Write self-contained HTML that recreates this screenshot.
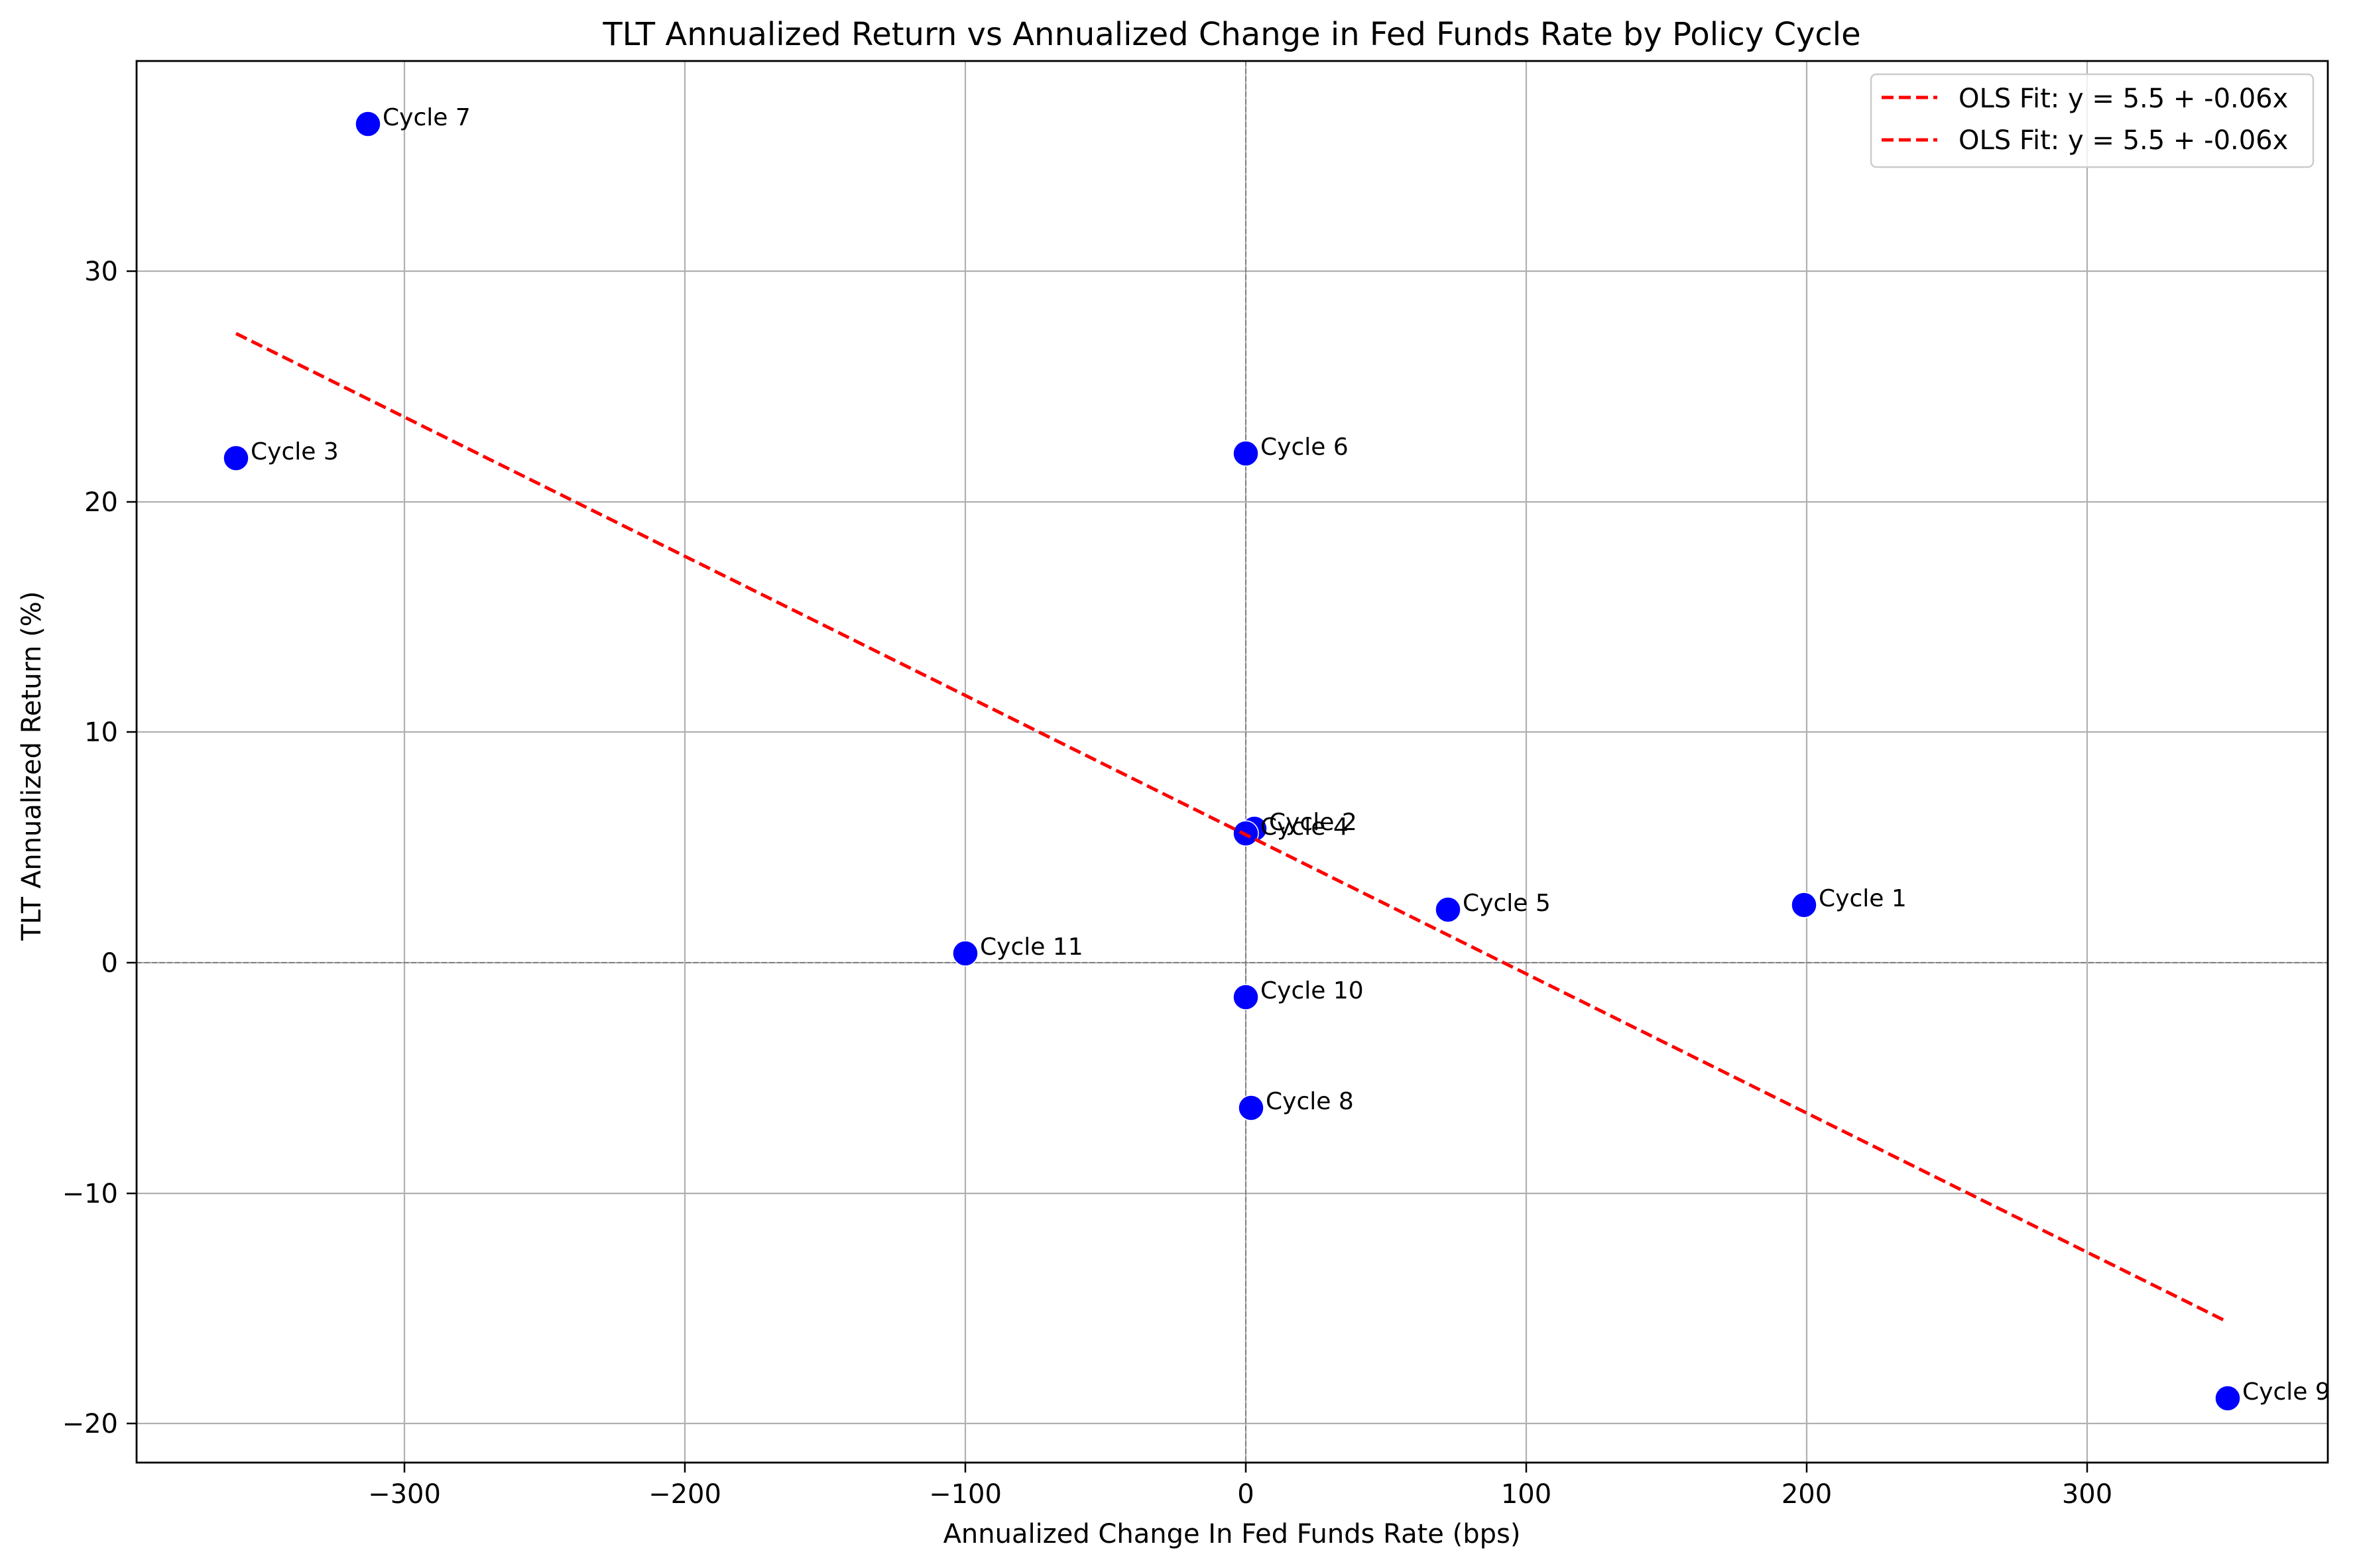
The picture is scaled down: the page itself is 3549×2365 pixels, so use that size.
<!DOCTYPE html>
<html><head><style>body{margin:0;background:#fff}svg{display:block}text{font-family:"DejaVu Sans","Liberation Sans",sans-serif;fill:#000}</style></head>
<body>
<svg width="3549" height="2365" viewBox="0 0 3549 2365" xmlns="http://www.w3.org/2000/svg">
<rect width="3549" height="2365" fill="#fff"/>
<g stroke="#b0b0b0" stroke-width="2.2">
<line x1="610" y1="92" x2="610" y2="2206"/><line x1="1033" y1="92" x2="1033" y2="2206"/><line x1="1456" y1="92" x2="1456" y2="2206"/><line x1="1879" y1="92" x2="1879" y2="2206"/><line x1="2302" y1="92" x2="2302" y2="2206"/><line x1="2725" y1="92" x2="2725" y2="2206"/><line x1="3148" y1="92" x2="3148" y2="2206"/>
<line x1="206" y1="409" x2="3511" y2="409"/><line x1="206" y1="757" x2="3511" y2="757"/><line x1="206" y1="1104" x2="3511" y2="1104"/><line x1="206" y1="1452" x2="3511" y2="1452"/><line x1="206" y1="1800" x2="3511" y2="1800"/><line x1="206" y1="2147" x2="3511" y2="2147"/>
</g>
<g stroke="#808080" stroke-width="2" stroke-dasharray="8,3.5">
<line x1="1879" y1="92" x2="1879" y2="2206"/><line x1="206" y1="1452" x2="3511" y2="1452"/>
</g>
<g fill="#0000ff" stroke="#fff" stroke-width="1.5">
<circle cx="555" cy="187" r="19"/><circle cx="356" cy="691" r="19"/><circle cx="1879" cy="684" r="19"/><circle cx="1892" cy="1250" r="19"/><circle cx="1879" cy="1257" r="19"/><circle cx="2184" cy="1372" r="19"/><circle cx="2721" cy="1365" r="19"/><circle cx="1456" cy="1438" r="19"/><circle cx="1879" cy="1504" r="19"/><circle cx="1887" cy="1671" r="19"/><circle cx="3360" cy="2109" r="19"/>
</g>
<line x1="356" y1="503" x2="3360" y2="1994" stroke="#ff0000" stroke-width="5" stroke-dasharray="18,8"/>
<g font-size="36">
<text x="577" y="189">Cycle 7</text><text x="378" y="693">Cycle 3</text><text x="1901" y="686">Cycle 6</text><text x="1914" y="1252">Cycle 2</text><text x="1901" y="1259">Cycle 4</text><text x="2206" y="1374">Cycle 5</text><text x="2743" y="1367">Cycle 1</text><text x="1478" y="1440">Cycle 11</text><text x="1901" y="1506">Cycle 10</text><text x="1909" y="1673">Cycle 8</text><text x="3382" y="2111">Cycle 9</text>
</g>
<rect x="206" y="92" width="3305" height="2114" fill="none" stroke="#000" stroke-width="2.8"/>
<g stroke="#000" stroke-width="2.5">
<line x1="610" y1="2206" x2="610" y2="2221"/><line x1="1033" y1="2206" x2="1033" y2="2221"/><line x1="1456" y1="2206" x2="1456" y2="2221"/><line x1="1879" y1="2206" x2="1879" y2="2221"/><line x1="2302" y1="2206" x2="2302" y2="2221"/><line x1="2725" y1="2206" x2="2725" y2="2221"/><line x1="3148" y1="2206" x2="3148" y2="2221"/>
<line x1="191" y1="409" x2="206" y2="409"/><line x1="191" y1="757" x2="206" y2="757"/><line x1="191" y1="1104" x2="206" y2="1104"/><line x1="191" y1="1452" x2="206" y2="1452"/><line x1="191" y1="1800" x2="206" y2="1800"/><line x1="191" y1="2147" x2="206" y2="2147"/>
</g>
<g font-size="40" text-anchor="middle">
<text x="610" y="2267">−300</text><text x="1033" y="2267">−200</text><text x="1456" y="2267">−100</text><text x="1879" y="2267">0</text><text x="2302" y="2267">100</text><text x="2725" y="2267">200</text><text x="3148" y="2267">300</text>
</g>
<g font-size="40" text-anchor="end">
<text x="178" y="423">30</text><text x="178" y="771">20</text><text x="178" y="1118">10</text><text x="178" y="1466">0</text><text x="178" y="1814">−10</text><text x="178" y="2161">−20</text>
</g>
<text x="1858" y="2327" font-size="40" text-anchor="middle">Annualized Change In Fed Funds Rate (bps)</text>
<text transform="translate(61,1155) rotate(-90)" font-size="40" text-anchor="middle">TLT Annualized Return (%)</text>
<text x="1858" y="68" font-size="48" text-anchor="middle">TLT Annualized Return vs Annualized Change in Fed Funds Rate by Policy Cycle</text>
<rect x="2822" y="112" width="667" height="140" rx="8" fill="#fff" fill-opacity="0.8" stroke="#cccccc" stroke-width="2.5"/>
<g stroke="#ff0000" stroke-width="5" stroke-dasharray="18,8">
<line x1="2838" y1="147" x2="2922" y2="147"/><line x1="2838" y1="211" x2="2922" y2="211"/>
</g>
<text x="2954" y="162" font-size="40">OLS Fit: y = 5.5 + -0.06x</text>
<text x="2954" y="225" font-size="40">OLS Fit: y = 5.5 + -0.06x</text>
</svg>
</body></html>
